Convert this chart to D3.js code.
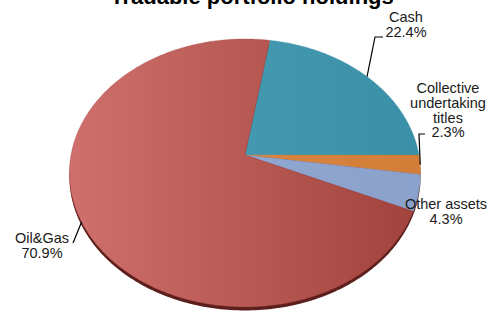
<!DOCTYPE html>
<html>
<head>
<meta charset="utf-8">
<script src="https://cdn.jsdelivr.net/npm/d3@7"></script>
<style>
  body { margin: 0; background: #fff; }
  svg { display: block; }
  text { font-family: "Liberation Sans", Arial, sans-serif; fill: #1a1a1a; }
</style>
</head>
<body>
<div id="chart"></div>
<script>
// slice data, clockwise from the top
var categories = ['Cash', 'Collective undertaking titles', 'Other assets', 'Oil&Gas'];
var labelLines = [['Cash'], ['Collective', 'undertaking', 'titles'], ['Other assets'], ['Oil&Gas']];
var shares = [22.4, 2.3, 4.3, 70.9];
var pctLabels = ['22.4%', '2.3%', '4.3%', '70.9%'];
var lightColors = ['#4ca1b8', '#e28c45', '#95abd4', '#cf706c'];
var darkColors = ['#3a90a6', '#d27e38', '#8aa1cb', '#a2423d'];

var w = 488,
    h = 314,
    cx = 245,
    cy = 155,
    rx = 174,    // horizontal radius
    ry = 131.6,  // vertical radius (tilted)
    persp = 0.134, // perspective strength, near edge is bigger
    rotation = 9.3; // degrees, first slice start

var svg = d3.select('#chart').append('svg')
    .attr('width', w)
    .attr('height', h);

// project a point of the flat unit circle onto the tilted disc
function project(a, r) {
  var u = Math.sin(a) * r,
      v = -Math.cos(a) * r;
  var s = 1 / (1 - persp * v);
  return [cx + rx * u * s, cy + ry * v * s];
}

var pie = d3.pie().sort(null)
    .startAngle(rotation * Math.PI / 180)
    .endAngle(rotation * Math.PI / 180 + 2 * Math.PI);
var arcs = pie(shares);

var line = d3.line();

function slicePath(d) {
  var pts = [[cx, cy]];
  var n = Math.max(4, Math.ceil((d.endAngle - d.startAngle) / 0.01));
  for (var i = 0; i <= n; i++) {
    pts.push(project(d.startAngle + (d.endAngle - d.startAngle) * i / n, 1));
  }
  return line(pts) + 'Z';
}

var defs = svg.append('defs');
arcs.forEach(function(d, i) {
  var g = defs.append('linearGradient')
      .attr('id', 'grad' + i)
      .attr('gradientUnits', 'userSpaceOnUse')
      .attr('x1', cx - rx).attr('y1', 0)
      .attr('x2', cx + rx).attr('y2', 0);
  g.append('stop').attr('offset', '0%').attr('stop-color', lightColors[i]);
  g.append('stop').attr('offset', '100%').attr('stop-color', darkColors[i]);
});

// thin dark side of the disc, only shows at the bottom
var rim = [];
for (var k = 0; k <= 360; k++) rim.push(project(k * Math.PI / 180, 1));
svg.append('path')
    .attr('d', line(rim) + 'Z')
    .attr('transform', 'translate(0,3.5)')
    .attr('fill', '#5c1f1c');

svg.selectAll('path.slice')
    .data(arcs)
  .enter().append('path')
    .attr('class', 'slice')
    .attr('d', slicePath)
    .attr('fill', function(d, i) { return 'url(#grad' + i + ')'; })
    .attr('stroke', function(d, i) { return darkColors[i]; })
    .attr('stroke-width', 0.3);

// title, mostly cropped off the top
svg.append('text')
    .attr('x', 252)
    .attr('y', 4)
    .attr('text-anchor', 'middle')
    .style('font-weight', 'bold')
    .style('font-size', '22px')
    .style('fill', '#000')
    .text('Tradable portfolio holdings');

// label layout: text centre x, first baseline, leader elbow
var labelLayout = [
  {x: 406, y: 22, elbow: [[375, 37], [383, 37]]},
  {x: 448, y: 93, elbow: [[419, 134], [425, 134]]},
  {x: 446, y: 209, elbow: null},
  {x: 42, y: 243, elbow: [[73, 243]]}
];
var lineH = 14.8;

arcs.forEach(function(d, i) {
  var lay = labelLayout[i];
  if (lay.elbow) {
    var mid = (d.startAngle + d.endAngle) / 2;
    var pts = [project(mid, 1)].concat(lay.elbow);
    svg.append('path')
        .attr('d', line(pts))
        .attr('fill', 'none')
        .attr('stroke', '#000')
        .attr('stroke-width', 1.2);
  }
  var t = svg.append('text')
      .attr('text-anchor', 'middle')
      .style('font-size', '14.5px');
  labelLines[i].concat([pctLabels[i]]).forEach(function(s, j) {
    t.append('tspan')
        .attr('x', lay.x)
        .attr('y', lay.y + j * lineH)
        .text(s);
  });
});
</script>
</body>
</html>
